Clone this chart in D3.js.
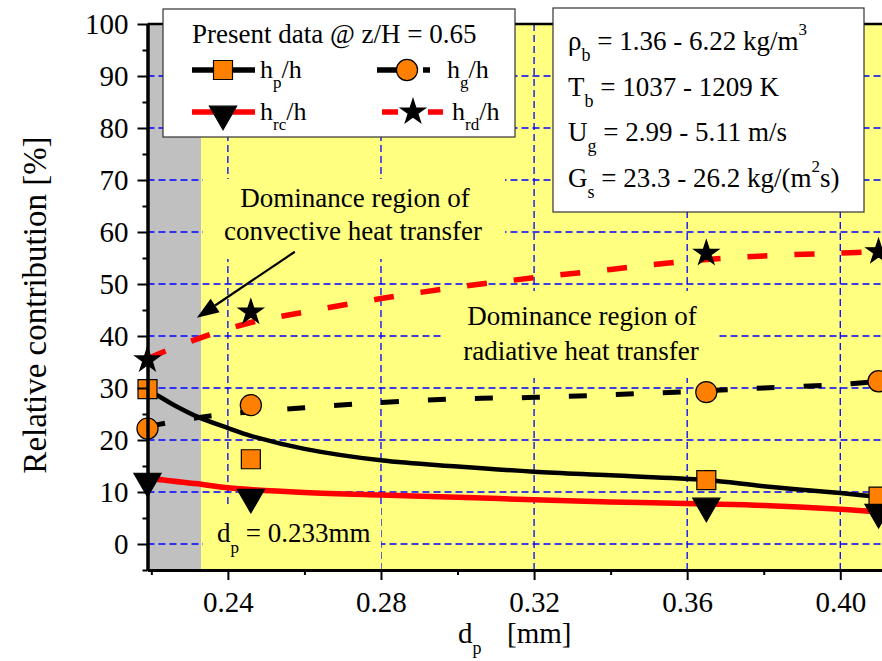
<!DOCTYPE html>
<html>
<head>
<meta charset="utf-8">
<script src="https://cdn.jsdelivr.net/npm/d3@7"></script>
<style>
body { margin: 0; background: #fff; }
svg text { font-family: "Liberation Serif", "Times New Roman", Times, serif; fill: #000; }
</style>
</head>
<body>
<script>
// measured points
var dp = [0.219, 0.246, 0.365, 0.41];
var hp = [29.8, 16.3, 12.3, 9.1];
var hg = [22.2, 26.7, 29.2, 31.3];
var hrc = [12.1, 9.0, 7.3, 6.1];
var hrd = [35.4, 44.6, 55.9, 56.2];

// fitted curves
var fitHpX = [0.219, 0.2215, 0.226, 0.232, 0.24, 0.246, 0.26, 0.28, 0.30, 0.32, 0.34, 0.365, 0.38, 0.40, 0.412];
var fitHpY = [29.5, 28.6, 26.7, 24.5, 22.3, 20.8, 18.3, 16.1, 14.9, 13.9, 13.2, 12.3, 11.1, 9.8, 8.9];
var fitHgX = [0.219, 0.222, 0.233, 0.24, 0.26, 0.28, 0.30, 0.32, 0.34, 0.36, 0.38, 0.40, 0.412];
var fitHgY = [22.5, 23.0, 24.4, 25.0, 26.2, 27.2, 27.9, 28.2, 28.7, 29.3, 30.0, 30.7, 31.4];
var fitHrcX = [0.219, 0.2205, 0.233, 0.24, 0.26, 0.28, 0.30, 0.32, 0.34, 0.365, 0.38, 0.40, 0.412];
var fitHrcY = [13.0, 12.6, 11.5, 10.8, 9.9, 9.4, 9.0, 8.5, 8.1, 7.7, 7.4, 6.7, 6.1];
var fitHrdX = [0.219, 0.222, 0.233, 0.246, 0.26, 0.28, 0.30, 0.32, 0.34, 0.36, 0.38, 0.40, 0.412];
var fitHrdY = [35.6, 36.6, 39.7, 42.6, 44.6, 47.2, 49.4, 51.2, 52.8, 54.4, 55.4, 55.95, 56.3];

var xTicks = [0.24, 0.28, 0.32, 0.36, 0.40];
var xMinor = [0.22, 0.26, 0.30, 0.34, 0.38];
var yTicks = [0, 10, 20, 30, 40, 50, 60, 70, 80, 90, 100];
var yMinor = [-5, 5, 15, 25, 35, 45, 55, 65, 75, 85, 95];
var yGrid = [0, 10, 20, 30, 40, 50, 60, 70, 80, 90];
var dpCrit = 0.233;

var infoLines = [
	["\u03C1", "b", " = 1.36 - 6.22 kg/m", "3", ""],
	["T", "b", " = 1037 - 1209 K", "", ""],
	["U", "g", " = 2.99 - 5.11 m/s", "", ""],
	["G", "s", " = 23.3 - 26.2 kg/(m", "2", "s)"]
];

var width = 882,
	height = 661,
	plotLeft = 147.5,
	plotTop = 24,
	plotBottom = 570;

var x = d3.scaleLinear().domain([0.219, 0.412]).range([plotLeft, plotLeft + 0.193 * 3827.5]);
var y = d3.scaleLinear().domain([-5, 100]).range([plotBottom, plotTop]);

var svg = d3.select("body").append("svg")
	.attr("width", width)
	.attr("height", height)
	.style("font-family", "'Liberation Serif', 'Times New Roman', serif");

svg.append("rect").attr("width", width).attr("height", height).style("fill", "#fff");

// regions
svg.append("rect")
	.attr("x", x(0.219)).attr("y", plotTop)
	.attr("width", x(dpCrit) - x(0.219)).attr("height", plotBottom - plotTop)
	.style("fill", "#c0c0c0");
svg.append("rect")
	.attr("x", x(dpCrit)).attr("y", plotTop)
	.attr("width", width - x(dpCrit)).attr("height", plotBottom - plotTop)
	.style("fill", "#ffff80");

// grid
svg.selectAll("line.hgrid")
	.data(yGrid)
	.enter()
	.append("line")
	.attr("class", "hgrid")
	.attr("x1", plotLeft).attr("x2", width)
	.attr("y1", function (d) { return y(d); })
	.attr("y2", function (d) { return y(d); });
svg.selectAll("line.vgrid")
	.data(xTicks)
	.enter()
	.append("line")
	.attr("class", "vgrid")
	.attr("y1", plotTop).attr("y2", plotBottom)
	.attr("x1", function (d) { return x(d); })
	.attr("x2", function (d) { return x(d); });
svg.selectAll("line.hgrid, line.vgrid")
	.style("stroke", "#0000ff")
	.style("stroke-width", 1.3)
	.style("stroke-dasharray", "7,4");

// yellow backgrounds behind annotations
var boxes = [[203, 179, 302, 80], [443, 291, 275, 87], [203, 507, 178, 62]];
svg.selectAll("rect.tbg")
	.data(boxes)
	.enter()
	.append("rect")
	.attr("class", "tbg")
	.attr("x", function (d) { return d[0]; })
	.attr("y", function (d) { return d[1]; })
	.attr("width", function (d) { return d[2]; })
	.attr("height", function (d) { return d[3]; })
	.style("fill", "#ffff80");

// fitted lines
function fitLine(xs, ys) {
	return d3.line()
		.x(function (d) { return x(d); })
		.y(function (d, i) { return y(ys[i]); })
		.curve(d3.curveCatmullRom.alpha(0.5))(xs);
}
svg.append("path").attr("d", fitLine(fitHpX, fitHpY))
	.style("fill", "none").style("stroke", "#000").style("stroke-width", 4.5);
svg.append("path").attr("d", fitLine(fitHrcX, fitHrcY))
	.style("fill", "none").style("stroke", "#ff0000").style("stroke-width", 5.5);
svg.append("path").attr("d", fitLine(fitHgX, fitHgY))
	.style("fill", "none").style("stroke", "#000").style("stroke-width", 5)
	.style("stroke-dasharray", "18,29");
svg.append("path").attr("d", fitLine(fitHrdX, fitHrdY))
	.style("fill", "none").style("stroke", "#ff0000").style("stroke-width", 5.5)
	.style("stroke-dasharray", "20,27");

// markers
var symSquare = d3.symbol().type(d3.symbolSquare).size(361)();
var symCircle = d3.symbol().type(d3.symbolCircle).size(350)();
var symTri = d3.symbol().type(d3.symbolTriangle).size(320)();
var symStar = d3.symbol().type(d3.symbolStar).size(190)();

function drawMarkers(vals, sym, fill, rot, cls) {
	svg.selectAll("path." + cls)
		.data(vals)
		.enter()
		.append("path")
		.attr("class", cls)
		.attr("d", sym)
		.attr("transform", function (d, i) { return "translate(" + x(dp[i]) + "," + y(d) + ") rotate(" + rot + ")"; })
		.style("fill", fill)
		.style("stroke", "#000")
		.style("stroke-width", 1.2);
}
drawMarkers(hrd, symStar, "#000", 0, "mrd");
drawMarkers(hg, symCircle, "#ff8000", 0, "mg");
drawMarkers(hp, symSquare, "#ff8000", 0, "mp");
drawMarkers(hrc, symTri, "#000", 180, "mrc");

// axes
svg.append("g")
	.attr("transform", "translate(" + plotLeft + ",0)")
	.call(d3.axisLeft(y).tickValues(yTicks).tickSize(10).tickSizeOuter(0).tickPadding(9).tickFormat(d3.format("d")));
svg.append("g")
	.attr("transform", "translate(" + plotLeft + ",0)")
	.call(d3.axisLeft(y).tickValues(yMinor).tickSize(5).tickSizeOuter(0).tickFormat(""));
svg.append("g")
	.attr("transform", "translate(0," + plotBottom + ")")
	.call(d3.axisBottom(x).tickValues(xTicks).tickSize(10).tickSizeOuter(0).tickPadding(11).tickFormat(d3.format(".2f")));
svg.append("g")
	.attr("transform", "translate(0," + plotBottom + ")")
	.call(d3.axisBottom(x).tickValues(xMinor).tickSize(5).tickSizeOuter(0).tickFormat(""));
svg.selectAll(".domain").style("stroke", "#000").style("stroke-width", 3);
svg.selectAll(".tick line").style("stroke", "#000").style("stroke-width", 2);
svg.selectAll("g").filter(function () { return this.hasAttribute("font-family"); })
	.attr("font-family", null)
	.attr("font-size", null);
svg.selectAll(".tick text")
	.style("font-size", "29px")
	.style("fill", "#000");

svg.append("line")
	.attr("x1", plotLeft).attr("x2", width)
	.attr("y1", plotTop).attr("y2", plotTop)
	.style("stroke", "#000").style("stroke-width", 2.5);

// axis titles
svg.append("text")
	.attr("transform", "translate(46,305) rotate(-90)")
	.style("text-anchor", "middle")
	.style("font-size", "33px")
	.text("Relative contribution [%]");
var xt = svg.append("text").attr("x", 458).attr("y", 643).style("font-size", "29px");
xt.append("tspan").text("d");
xt.append("tspan").attr("dy", 11).style("font-size", "18px").text("p");
svg.append("text").attr("x", 507).attr("y", 643).style("font-size", "29px").text("[mm]");

// annotations
svg.append("text").attr("x", 355).attr("y", 207).style("text-anchor", "middle").style("font-size", "27px").text("Dominance region of");
svg.append("text").attr("x", 353).attr("y", 240).style("text-anchor", "middle").style("font-size", "27px").text("convective heat transfer");
svg.append("text").attr("x", 582).attr("y", 325).style("text-anchor", "middle").style("font-size", "27px").text("Dominance region of");
svg.append("text").attr("x", 581).attr("y", 360).style("text-anchor", "middle").style("font-size", "27px").text("radiative heat transfer");
var dl = svg.append("text").attr("x", 217).attr("y", 542).style("font-size", "27px");
dl.append("tspan").text("d");
dl.append("tspan").attr("dy", 11).style("font-size", "17px").text("p");
dl.append("tspan").attr("dy", -11).text(" = 0.233mm");

// arrow
var a0 = [x(0.2575), y(56.2)], a1 = [x(0.2319), y(43.5)];
var ang = Math.atan2(a1[1] - a0[1], a1[0] - a0[0]);
var hl = 22, hw = 8;
var base = [a1[0] - hl * Math.cos(ang), a1[1] - hl * Math.sin(ang)];
svg.append("line")
	.attr("x1", a0[0]).attr("y1", a0[1]).attr("x2", base[0]).attr("y2", base[1])
	.style("stroke", "#000").style("stroke-width", 2.2);
svg.append("path")
	.attr("d", "M" + a1[0] + "," + a1[1] +
		"L" + (base[0] + hw * Math.sin(ang)) + "," + (base[1] - hw * Math.cos(ang)) +
		"L" + (base[0] - hw * Math.sin(ang)) + "," + (base[1] + hw * Math.cos(ang)) + "Z")
	.style("fill", "#000");

// legend
var lg = svg.append("g");
lg.append("rect").attr("x", 163).attr("y", 9).attr("width", 352).attr("height", 128)
	.style("fill", "#fff").style("stroke", "#333").style("stroke-width", 1.2);
lg.append("text").attr("x", 192).attr("y", 43).style("font-size", "27px").text("Present data @ z/H = 0.65");

var legendItems = [
	{ sub: "p", sym: symSquare, fill: "#ff8000", rot: 0, color: "#000", dash: null },
	{ sub: "g", sym: symCircle, fill: "#ff8000", rot: 0, color: "#000", dash: "20,26" },
	{ sub: "rc", sym: symTri, fill: "#000", rot: 180, color: "#ff0000", dash: null },
	{ sub: "rd", sym: symStar, fill: "#000", rot: 0, color: "#ff0000", dash: "16,30" }
];
var legPos = [[192, 255, 223, 70, 260], [377, 430, 407, 70, 447], [192, 255, 223, 112, 260], [382, 443, 413, 112, 452]];
legendItems.forEach(function (d, i) {
	var p = legPos[i];
	lg.append("line")
		.attr("x1", p[0]).attr("x2", p[1]).attr("y1", p[3]).attr("y2", p[3])
		.style("stroke", d.color).style("stroke-width", 5.5)
		.style("stroke-dasharray", d.dash);
	lg.append("path").attr("d", d.sym)
		.attr("transform", "translate(" + p[2] + "," + (p[3] + (d.rot ? 2 : 0)) + ") rotate(" + d.rot + ")")
		.style("fill", d.fill).style("stroke", "#000").style("stroke-width", 1.2);
	var t = lg.append("text").attr("x", p[4]).attr("y", p[3] + 8).style("font-size", "26px");
	t.append("tspan").text("h");
	t.append("tspan").attr("dy", 10).style("font-size", "17px").text(d.sub);
	t.append("tspan").attr("dy", -10).text("/h");
});

// info box
var ib = svg.append("g");
ib.append("rect").attr("x", 553).attr("y", 8).attr("width", 311).attr("height", 204)
	.style("fill", "#fff").style("stroke", "#333").style("stroke-width", 1.2);
infoLines.forEach(function (d, i) {
	var t = ib.append("text").attr("x", 568).attr("y", 50 + i * 45.5).style("font-size", "27px");
	t.append("tspan").text(d[0]);
	t.append("tspan").attr("dy", 11).style("font-size", "18px").text(d[1]);
	t.append("tspan").attr("dy", -11).text(d[2]);
	if (d[3]) {
		t.append("tspan").attr("dy", -15).style("font-size", "17px").text(d[3]);
		t.append("tspan").attr("dy", 15).text(d[4]);
	}
});
</script>
</body>
</html>
